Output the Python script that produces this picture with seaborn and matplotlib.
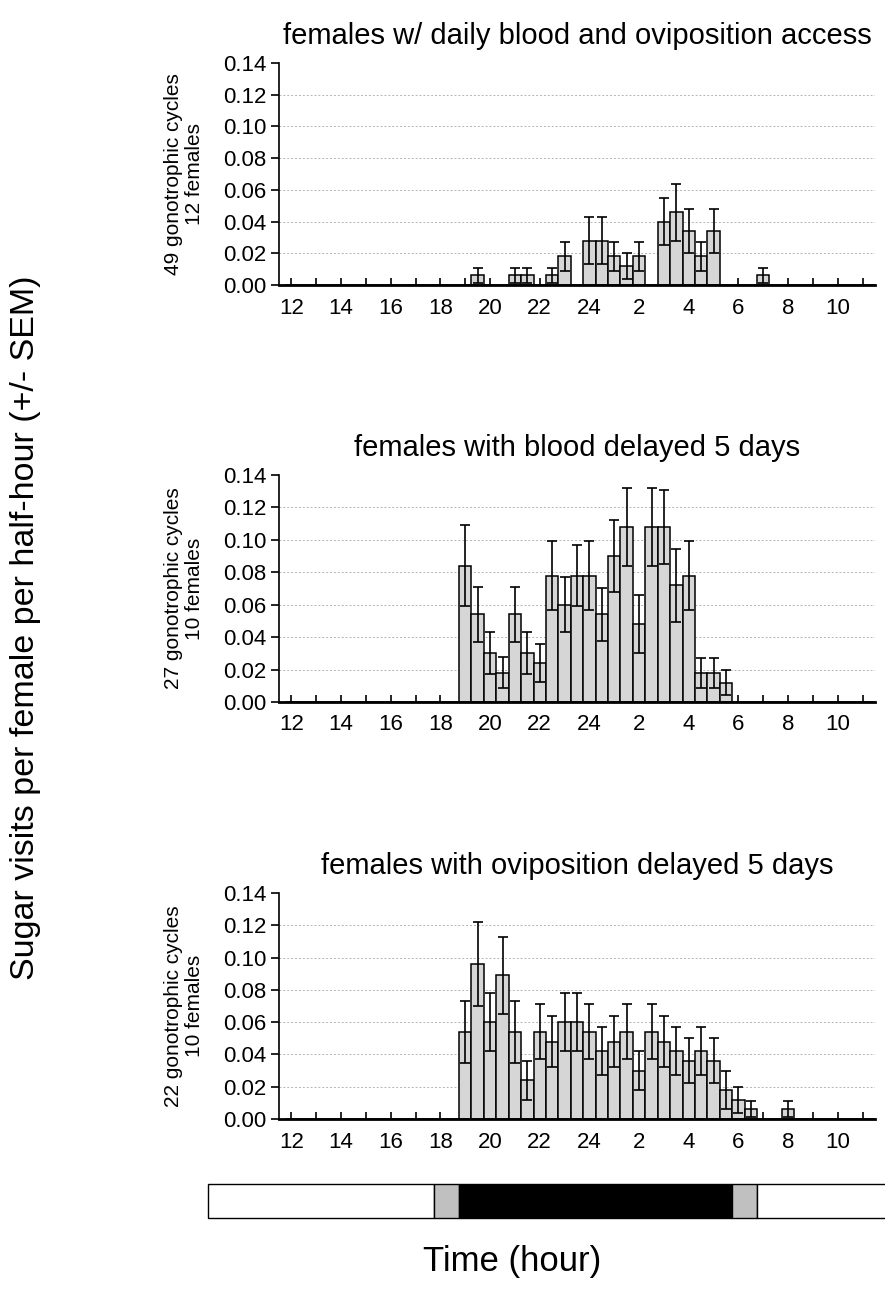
import numpy as np
import pandas as pd
import matplotlib
matplotlib.use("Agg")
import matplotlib.pyplot as plt
import seaborn as sns

# ---------------- data ----------------
n_slots = 48
slot_labels = []
for i in range(n_slots):
    hh = 12 + i // 2
    if hh > 24:
        hh -= 24
    slot_labels.append(f"{hh}:{'30' if i % 2 else '00'}")

tick_labels = ["12", "14", "16", "18", "20", "22", "24", "2", "4", "6", "8", "10"]

titles = ["females w/ daily blood and oviposition access",
          "females with blood delayed 5 days",
          "females with oviposition delayed 5 days"]
side_notes = ["49 gonotrophic cycles\n12 females",
              "27 gonotrophic cycles\n10 females",
              "22 gonotrophic cycles\n10 females"]

# panel 1: daily blood and oviposition access
mean_daily = [0, 0, 0, 0, 0, 0, 0, 0, 0, 0, 0, 0, 0, 0, 0, 0.006,
              0, 0, 0.006, 0.006, 0, 0.006, 0.018, 0, 0.028, 0.028, 0.018, 0.012, 0.018, 0, 0.040, 0.046,
              0.034, 0.018, 0.034, 0, 0, 0, 0.006, 0, 0, 0, 0, 0, 0, 0, 0, 0]
sem_daily = [0, 0, 0, 0, 0, 0, 0, 0, 0, 0, 0, 0, 0, 0, 0, 0.005,
             0, 0, 0.005, 0.005, 0, 0.005, 0.009, 0, 0.015, 0.015, 0.009, 0.008, 0.009, 0, 0.015, 0.018,
             0.014, 0.009, 0.014, 0, 0, 0, 0.005, 0, 0, 0, 0, 0, 0, 0, 0, 0]

# panel 2: blood delayed 5 days
mean_blood = [0, 0, 0, 0, 0, 0, 0, 0, 0, 0, 0, 0, 0, 0, 0.084, 0.054,
              0.030, 0.018, 0.054, 0.030, 0.024, 0.078, 0.060, 0.078, 0.078, 0.054, 0.090, 0.108, 0.048, 0.108, 0.108, 0.072,
              0.078, 0.018, 0.018, 0.012, 0, 0, 0, 0, 0, 0, 0, 0, 0, 0, 0, 0]
sem_blood = [0, 0, 0, 0, 0, 0, 0, 0, 0, 0, 0, 0, 0, 0, 0.025, 0.017,
             0.013, 0.0095, 0.017, 0.013, 0.0115, 0.021, 0.017, 0.019, 0.021, 0.0165, 0.022, 0.024, 0.018, 0.024, 0.023, 0.0225,
             0.021, 0.0093, 0.0093, 0.0078, 0, 0, 0, 0, 0, 0, 0, 0, 0, 0, 0, 0]

# panel 3: oviposition delayed 5 days
mean_ovi = [0, 0, 0, 0, 0, 0, 0, 0, 0, 0, 0, 0, 0, 0, 0.054, 0.096,
            0.060, 0.089, 0.054, 0.024, 0.054, 0.048, 0.060, 0.060, 0.054, 0.042, 0.048, 0.054, 0.030, 0.054, 0.048, 0.042,
            0.036, 0.042, 0.036, 0.018, 0.012, 0.006, 0, 0, 0.006, 0, 0, 0, 0, 0, 0, 0]
sem_ovi = [0, 0, 0, 0, 0, 0, 0, 0, 0, 0, 0, 0, 0, 0, 0.019, 0.026,
           0.018, 0.024, 0.019, 0.012, 0.017, 0.016, 0.018, 0.018, 0.017, 0.015, 0.016, 0.017, 0.012, 0.017, 0.016, 0.015,
           0.014, 0.015, 0.014, 0.012, 0.008, 0.005, 0, 0, 0.005, 0, 0, 0, 0, 0, 0, 0]

panel_means = [mean_daily, mean_blood, mean_ovi]
panel_sems = [sem_daily, sem_blood, sem_ovi]

# light regime (hours counted from noon of day 1; 24 = midnight)
phase_start = [8.9, 18.0, 19.0, 30.0, 31.0]
phase_end = [18.0, 19.0, 30.0, 31.0, 37.0]
phase_color = ["white", "#c0c0c0", "black", "#c0c0c0", "white"]

# ---------------- style ----------------
sns.set_theme(style="ticks")
plt.rcParams["font.family"] = ["Liberation Sans", "DejaVu Sans"]

W, H = 885, 1294
fig = plt.figure(figsize=(W / 100, H / 100), dpi=100)

ax_left_px, ax_right_px = 279, 875
panel_tops = [63, 475, 893]
panel_bottoms = [285, 702, 1119]
unit_px = (ax_right_px - ax_left_px) / 48.0
yticks = np.arange(0, 0.1401, 0.02)

for k in range(3):
    top, bot = panel_tops[k], panel_bottoms[k]
    ax = fig.add_axes([ax_left_px / W, 1 - bot / H,
                       (ax_right_px - ax_left_px) / W, (bot - top) / H])
    df = pd.DataFrame({"slot": slot_labels, "mean": panel_means[k], "sem": panel_sems[k]})
    sns.barplot(data=df, x="slot", y="mean", order=slot_labels, color="#d6d6d6",
                saturation=1, edgecolor="black", linewidth=1.1, width=1.0,
                errorbar=None, ax=ax, zorder=2)
    nz = df["mean"] > 0
    xs = np.arange(n_slots)[nz.values]
    ax.errorbar(xs, df["mean"][nz], yerr=df["sem"][nz], fmt="none",
                ecolor="black", elinewidth=1.2, capsize=3.5, capthick=1.2, zorder=3)
    for yv in yticks[1:-1]:
        ax.axhline(yv, color="#b4b4b4", lw=0.7, ls=(0, (2, 2)), zorder=0.5)

    ax.set_xlim(-1, 47)
    ax.set_ylim(0, 0.14)
    ax.set_yticks(yticks)
    ax.set_yticklabels([f"{v:.2f}" for v in yticks])
    ax.set_xticks(np.arange(0, 48, 4))
    ax.set_xticklabels(tick_labels)
    ax.set_xticks(np.arange(2, 48, 4), minor=True)
    ax.tick_params(axis="x", which="both", direction="in", length=5, width=1.2,
                   pad=9, labelsize=16, bottom=True, colors="black")
    ax.tick_params(axis="y", direction="out", length=6, width=1.2, pad=3,
                   labelsize=16, left=True, colors="black")
    ax.set_xlabel("")
    ax.set_ylabel("")
    for s in ["top", "right"]:
        ax.spines[s].set_visible(False)
    ax.spines["left"].set_linewidth(1.2)
    ax.spines["left"].set_color("black")
    ax.spines["bottom"].set_linewidth(2.0)
    ax.spines["bottom"].set_color("black")
    ax.set_title(titles[k], fontsize=21, pad=14, color="black")

    fig.text(184 / W, 1 - (top + bot) / 2 / H, side_notes[k], rotation=90,
             ha="center", va="center", multialignment="center",
             fontsize=15, linespacing=1.15, color="black")

# light-regime bar
bar_left_px, bar_right_px = 208, 885
bar_top_px, bar_bot_px = 1184, 1218
bax = fig.add_axes([bar_left_px / W, 1 - bar_bot_px / H,
                    (bar_right_px - bar_left_px) / W, (bar_bot_px - bar_top_px) / H])
xl = -1 + (bar_left_px - ax_left_px) / unit_px
xr = 47 + (bar_right_px - ax_right_px) / unit_px
bax.set_xlim(xl, xr)
bax.set_ylim(0, 1)
bax.axis("off")


def hour_to_u(h):
    return 2 * (h - 12) - 0.5


for s, e, c in zip(phase_start, phase_end, phase_color):
    bax.barh(0.5, hour_to_u(e) - hour_to_u(s), left=hour_to_u(s), height=1.0,
             color=c, edgecolor="black", linewidth=1.0, clip_on=False)

fig.text(512 / W, 1 - 1262 / H, "Time (hour)", ha="center", va="center",
         fontsize=25, color="black")
fig.text(26 / W, 1 - 628 / H, "Sugar visits per female per half-hour (+/- SEM)",
         rotation=90, ha="center", va="center", fontsize=24.5, color="black")

fig.savefig("out.png", dpi=100)
